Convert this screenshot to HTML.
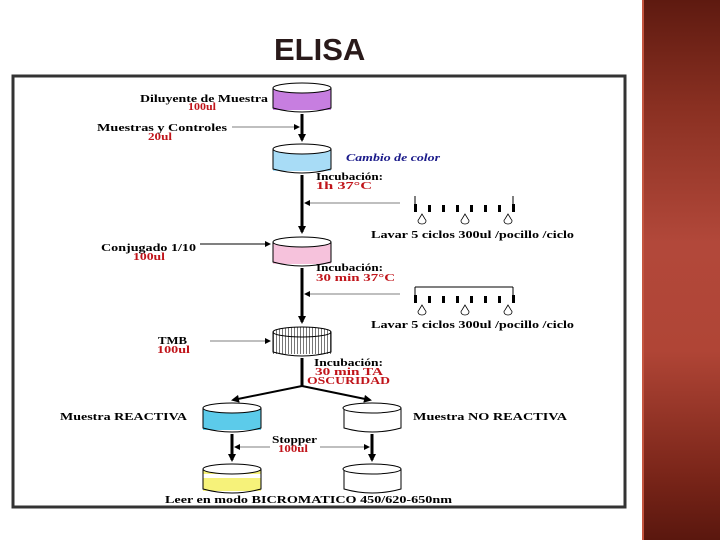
<!DOCTYPE html>
<html><head><meta charset="utf-8"><style>
html,body{margin:0;padding:0;background:#fff;width:720px;height:540px;overflow:hidden}
.side{position:absolute;left:642px;top:0;width:78px;height:540px;background:linear-gradient(180deg,#5e1a10 0%,#8a3022 20%,#b2483a 45%,#b04536 65%,#7a2519 88%,#5a170e 100%);border-left:2px solid #c4553f}
svg{position:absolute;left:0;top:0}
text{font-family:"Liberation Serif",serif;font-weight:bold}
</style></head><body>
<div class="side"></div>
<svg width="720" height="540" viewBox="0 0 720 540">
<defs>
<marker id="a" markerWidth="8" markerHeight="8" refX="6" refY="4" orient="auto" markerUnits="userSpaceOnUse"><path d="M0,0 L8,4 L0,8z" fill="#000"/></marker>
<marker id="s" markerWidth="6" markerHeight="6" refX="5" refY="3" orient="auto" markerUnits="userSpaceOnUse"><path d="M0,0 L6,3 L0,6z" fill="#000"/></marker>
<pattern id="dots" width="3" height="3" patternUnits="userSpaceOnUse"><rect width="3" height="3" fill="#fff"/><rect width="1" height="3" fill="#777"/></pattern>
</defs>
<text x="274" y="60" font-size="31" fill="#2a1a1a" style="font-family:'Liberation Sans',sans-serif">ELISA</text>
<rect x="13" y="76" width="612" height="431" fill="none" stroke="#333" stroke-width="3"/>
<g stroke="#000" stroke-width="1">
<g>
<rect x="273" y="88" width="58" height="22" fill="#c77ee0" stroke="none"/>
<path d="M273,88 V108 Q302,116 331,108 V88" fill="none"/>
<ellipse cx="302" cy="88" rx="29" ry="5" fill="#fff"/>
</g>
<g>
<rect x="273" y="149" width="58" height="22" fill="#a8dcf6" stroke="none"/>
<path d="M273,149 V169 Q302,177 331,169 V149" fill="none"/>
<ellipse cx="302" cy="149" rx="29" ry="5" fill="#fff"/>
</g>
<g>
<rect x="273" y="242" width="58" height="22" fill="#f6c2dc" stroke="none"/>
<path d="M273,242 V262 Q302,270 331,262 V242" fill="none"/>
<ellipse cx="302" cy="242" rx="29" ry="5" fill="#fff"/>
</g>
<g>
<rect x="273" y="332" width="58" height="22" fill="url(#dots)" stroke="none"/>
<path d="M273,332 V352 Q302,360 331,352 V332" fill="none"/>
<ellipse cx="302" cy="332" rx="29" ry="5" fill="url(#dots)"/>
</g>
<g>
<rect x="203" y="408" width="58" height="22" fill="#5ccbea" stroke="none"/>
<path d="M203,408 V428 Q232,436 261,428 V408" fill="none"/>
<ellipse cx="232" cy="408" rx="29" ry="5" fill="#fff"/>
</g>
<g>
<path d="M344,408 V428 Q372,436 401,428 V408" fill="none"/>
<ellipse cx="372" cy="408" rx="29" ry="5" fill="#fff"/>
</g>
<g>
<rect x="203" y="469" width="58" height="22" fill="#f6f27a" stroke="none"/>
<rect x="203" y="474" width="58" height="4" fill="#fff" stroke="none"/>
<path d="M203,469 V489 Q232,497 261,489 V469" fill="none"/>
<ellipse cx="232" cy="469" rx="29" ry="5" fill="#fff"/>
</g>
<g>
<path d="M344,469 V489 Q372,497 401,489 V469" fill="none"/>
<ellipse cx="372" cy="469" rx="29" ry="5" fill="#fff"/>
</g>
</g>
<g stroke="#000" stroke-width="3">
<line x1="302" y1="114" x2="302" y2="140" marker-end="url(#a)"/>
<line x1="302" y1="175" x2="302" y2="232" marker-end="url(#a)"/>
<line x1="302" y1="268" x2="302" y2="322" marker-end="url(#a)"/>
<line x1="302" y1="358" x2="302" y2="386"/>
<line x1="302" y1="386" x2="233" y2="400" stroke-width="2" marker-end="url(#a)"/>
<line x1="302" y1="386" x2="370" y2="400" stroke-width="2" marker-end="url(#a)"/>
<line x1="232" y1="434" x2="232" y2="460" marker-end="url(#a)"/>
<line x1="372" y1="434" x2="372" y2="460" marker-end="url(#a)"/>
</g>
<g stroke="#555" stroke-width="0.8">
<line x1="232" y1="127" x2="299" y2="127" marker-end="url(#s)"/>
<line x1="400" y1="203" x2="305" y2="203" marker-end="url(#s)"/>
<line x1="400" y1="294" x2="305" y2="294" marker-end="url(#s)"/>
<line x1="210" y1="341" x2="270" y2="341" marker-end="url(#s)"/>
<line x1="270" y1="447" x2="235" y2="447" marker-end="url(#s)"/>
<line x1="320" y1="447" x2="369" y2="447" marker-end="url(#s)"/>
</g>
<line x1="200" y1="244" x2="270" y2="244" stroke="#000" stroke-width="1" marker-end="url(#s)"/>
<g stroke="#000" stroke-width="1">
<line x1="415" y1="196" x2="415" y2="212"/><line x1="513" y1="196" x2="513" y2="212"/>
<path d="M415,287 H513 M415,287 V302 M513,287 V302"/>
</g>
<g fill="#000">
<rect x="414" y="204" width="3" height="8"/><rect x="428" y="205" width="3" height="7"/><rect x="442" y="205" width="3" height="7"/><rect x="456" y="205" width="3" height="7"/><rect x="470" y="205" width="3" height="7"/><rect x="484" y="205" width="3" height="7"/><rect x="498" y="205" width="3" height="7"/><rect x="512" y="204" width="3" height="8"/>
<rect x="414" y="295" width="3" height="8"/><rect x="428" y="296" width="3" height="7"/><rect x="442" y="296" width="3" height="7"/><rect x="456" y="296" width="3" height="7"/><rect x="470" y="296" width="3" height="7"/><rect x="484" y="296" width="3" height="7"/><rect x="498" y="296" width="3" height="7"/><rect x="512" y="295" width="3" height="8"/>
</g>
<g fill="#fff" stroke="#000" stroke-width="0.8">
<path d="M422,214 L419,219 A4,3 0 1,0 425,219 Z"/><path d="M465,214 L462,219 A4,3 0 1,0 468,219 Z"/><path d="M508,214 L505,219 A4,3 0 1,0 511,219 Z"/>
<path d="M422,305 L419,310 A4,3 0 1,0 425,310 Z"/><path d="M465,305 L462,310 A4,3 0 1,0 468,310 Z"/><path d="M508,305 L505,310 A4,3 0 1,0 511,310 Z"/>
</g>
<g font-size="11" fill="#000" lengthAdjust="spacingAndGlyphs">
<text x="140" y="102" textLength="128" lengthAdjust="spacingAndGlyphs">Diluyente de Muestra</text>
<text x="97" y="131" textLength="130" lengthAdjust="spacingAndGlyphs">Muestras y Controles</text>
<text x="316" y="180" textLength="67" lengthAdjust="spacingAndGlyphs">Incubación:</text>
<text x="371" y="238" textLength="203" lengthAdjust="spacingAndGlyphs">Lavar 5 ciclos 300ul /pocillo /ciclo</text>
<text x="101" y="251" textLength="95" lengthAdjust="spacingAndGlyphs">Conjugado 1/10</text>
<text x="316" y="271" textLength="67" lengthAdjust="spacingAndGlyphs">Incubación:</text>
<text x="371" y="328" textLength="203" lengthAdjust="spacingAndGlyphs">Lavar 5 ciclos 300ul /pocillo /ciclo</text>
<text x="158" y="344" textLength="29" lengthAdjust="spacingAndGlyphs">TMB</text>
<text x="314" y="366" textLength="69" lengthAdjust="spacingAndGlyphs">Incubación:</text>
<text x="60" y="420" textLength="127" lengthAdjust="spacingAndGlyphs">Muestra REACTIVA</text>
<text x="413" y="420" textLength="154" lengthAdjust="spacingAndGlyphs">Muestra NO REACTIVA</text>
<text x="272" y="443" textLength="45" lengthAdjust="spacingAndGlyphs">Stopper</text>
<text x="165" y="503" textLength="287" lengthAdjust="spacingAndGlyphs">Leer en modo BICROMATICO 450/620-650nm</text>
</g>
<g font-size="11" fill="#c0141a">
<text x="188" y="110" textLength="28" lengthAdjust="spacingAndGlyphs">100ul</text>
<text x="148" y="140" textLength="24" lengthAdjust="spacingAndGlyphs">20ul</text>
<text x="316" y="189" textLength="56" lengthAdjust="spacingAndGlyphs">1h   37°C</text>
<text x="133" y="260" textLength="32" lengthAdjust="spacingAndGlyphs">100ul</text>
<text x="316" y="281" textLength="79" lengthAdjust="spacingAndGlyphs">30 min  37°C</text>
<text x="157" y="353" textLength="33" lengthAdjust="spacingAndGlyphs">100ul</text>
<text x="315" y="375" textLength="68" lengthAdjust="spacingAndGlyphs">30 min  TA</text>
<text x="307" y="384" textLength="83" lengthAdjust="spacingAndGlyphs">OSCURIDAD</text>
<text x="278" y="452" textLength="30" lengthAdjust="spacingAndGlyphs">100ul</text>
</g>
<text x="346" y="161" font-size="11" fill="#1a1a8a" font-style="italic" textLength="94" lengthAdjust="spacingAndGlyphs">Cambio de color</text>
</svg>
</body></html>
